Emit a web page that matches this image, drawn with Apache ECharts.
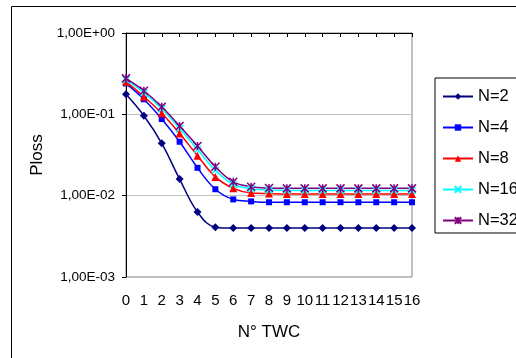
<!DOCTYPE html>
<html>
<head>
<meta charset="utf-8">
<script src="https://cdn.jsdelivr.net/npm/echarts@6/dist/echarts.min.js"></script>
<style>
  html, body { margin: 0; padding: 0; background: #fff; }
  #chart { width: 516px; height: 358px; }
</style>
</head>
<body>
<div id="chart"></div>
<script>
// N° TWC categories
const twc = ['0', '1', '2', '3', '4', '5', '6', '7', '8', '9', '10', '11', '12', '13', '14', '15', '16'];

// Ploss per N
const n2 = [0.176, 0.096, 0.044, 0.016, 0.0063, 0.0041, 0.004, 0.004, 0.004, 0.004, 0.004, 0.004, 0.004, 0.004, 0.004, 0.004, 0.004];
const n4 = [0.24, 0.153, 0.0875, 0.046, 0.022, 0.012, 0.009, 0.0085, 0.0083, 0.0083, 0.0083, 0.0083, 0.0083, 0.0083, 0.0083, 0.0083, 0.0083];
const n8 = [0.252, 0.165, 0.103, 0.058, 0.031, 0.017, 0.0123, 0.0108, 0.0106, 0.0105, 0.0105, 0.0105, 0.0105, 0.0105, 0.0105, 0.0105, 0.0105];
const n16 = [0.265, 0.185, 0.117, 0.067, 0.037, 0.0205, 0.0138, 0.0122, 0.0117, 0.0116, 0.0116, 0.0116, 0.0116, 0.0116, 0.0116, 0.0116, 0.0116];
const n32 = [0.277, 0.195, 0.124, 0.0718, 0.0407, 0.0227, 0.0148, 0.0129, 0.0124, 0.0123, 0.0123, 0.0123, 0.0123, 0.0123, 0.0123, 0.0123, 0.0123];

const font = '"Liberation Sans", Arial, sans-serif';

function fmtExp(v) {
  const e = Math.round(Math.log10(v));
  return '1,00E' + (e < 0 ? '-' : '+') + String(Math.abs(e)).padStart(2, '0');
}

function line(name, data, color, symbol, size, stroke) {
  return {
    name: name,
    type: 'line',
    data: data,
    smooth: 0.4,
    symbol: symbol,
    symbolSize: size,
    showSymbol: true,
    lineStyle: { color: color, width: 1.5 },
    itemStyle: stroke
      ? { color: color, borderColor: color, borderWidth: 1.5 }
      : { color: color, borderWidth: 0 },
    emphasis: { disabled: true }
  };
}

const chart = echarts.init(document.getElementById('chart'));
chart.setOption({
  animation: false,
  textStyle: { fontFamily: font },
  grid: {
    left: 126, top: 33, right: 104, bottom: 81,
    show: true, borderColor: '#808080', borderWidth: 1
  },
  legend: {
    orient: 'vertical',
    left: 435, top: 78,
    padding: [10, 50, 4, 7],
    itemGap: 14,
    itemWidth: 30,
    itemHeight: 8,
    borderColor: '#000',
    borderWidth: 1,
    textStyle: { fontSize: 16.5, lineHeight: 16, color: '#000', fontFamily: font },
    data: ['N=2', 'N=4', 'N=8', 'N=16', 'N=32']
  },
  xAxis: [
    {
      type: 'category',
      data: twc,
      boundaryGap: false,
      position: 'bottom',
      axisLine: { show: false },
      axisTick: { show: false },
      axisLabel: { interval: 0, margin: 16, fontSize: 15, color: '#000', fontFamily: font },
      name: 'N° TWC',
      nameLocation: 'middle',
      nameGap: 47,
      nameTextStyle: { fontSize: 17, color: '#000', fontFamily: font }
    },
    {
      type: 'category',
      data: twc,
      boundaryGap: false,
      position: 'top',
      axisLine: { lineStyle: { color: '#000', width: 1 } },
      axisTick: { inside: true, length: 4, interval: 0, lineStyle: { color: '#000' } },
      axisLabel: { show: false }
    }
  ],
  yAxis: {
    type: 'log',
    logBase: 10,
    min: 0.001,
    max: 1,
    interval: 1,
    axisLine: { show: true, lineStyle: { color: '#000', width: 1 } },
    axisTick: { show: true, length: 4, lineStyle: { color: '#000' } },
    axisLabel: { margin: 11, fontSize: 13.5, color: '#000', fontFamily: font, formatter: fmtExp },
    splitLine: { show: true, lineStyle: { color: '#c0c0c0', width: 1 } },
    name: 'Ploss',
    nameLocation: 'middle',
    nameGap: 80,
    nameTextStyle: { fontSize: 17, color: '#000', fontFamily: font }
  },
  graphic: [{
    type: 'rect',
    shape: { x: 11.5, y: 6.5, width: 600, height: 400 },
    style: { fill: 'none', stroke: '#000', lineWidth: 1 },
    silent: true
  }],
  series: [
    line('N=2', n2, '#000080', 'diamond', 8, false),
    line('N=4', n4, '#0000ff', 'rect', 6, false),
    line('N=8', n8, '#ff0000', 'triangle', 8, false),
    line('N=16', n16, '#00ffff', 'path://M0,0L10,10M10,0L0,10', 7, true),
    line('N=32', n32, '#800080', 'path://M0,0L10,10M10,0L0,10M5,0L5,10', 8, true)
  ]
});
</script>
</body>
</html>
